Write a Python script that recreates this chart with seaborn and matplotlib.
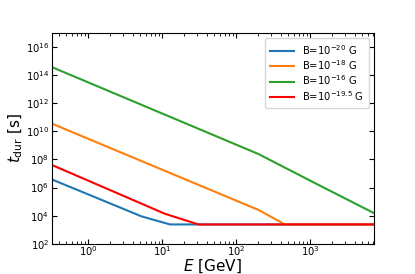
import matplotlib
matplotlib.use('Agg')
import matplotlib.pyplot as plt
import numpy as np
import pandas as pd
import seaborn as sns

# values (E in GeV, t_dur in s)
E_b20 = [0.323, 5.3, 12.8, 7200]
t_b20 = [3.8e6, 8.9e3, 2.4e3, 2.4e3]

E_b18 = [0.323, 200, 457, 7200]
t_b18 = [3.55e10, 2.6e4, 2.4e3, 2.4e3]

E_b16 = [0.323, 200, 1230, 7200]
t_b16 = [3.7e14, 2.45e8, 1.8e6, 1.6e4]

E_b195 = [0.323, 10.9, 31, 7200]
t_b195 = [4.07e7, 1.38e4, 2.4e3, 2.4e3]

labels = [r'B=$10^{-20}$ G', r'B=$10^{-18}$ G',
          r'B=$10^{-16}$ G', r'B=$10^{-19.5}$ G']
colors = ['C0', 'C1', 'C2', 'red']

series = [(E_b20, t_b20), (E_b18, t_b18), (E_b16, t_b16), (E_b195, t_b195)]

fig, ax = plt.subplots(figsize=(4.15, 2.74), dpi=100)

for (E, t), lab, c in zip(series, labels, colors):
    df = pd.DataFrame({'E': E, 't': t})
    sns.lineplot(data=df, x='E', y='t', color=c, label=lab, lw=1.5, ax=ax)

ax.set_xscale('log')
ax.set_yscale('log')
ax.set_xlim(0.323, 7200)
ax.set_ylim(1e2, 1e17)
ax.yaxis.set_major_locator(matplotlib.ticker.LogLocator(base=100))
ax.yaxis.set_minor_locator(matplotlib.ticker.NullLocator())

ax.tick_params(which='both', direction='in', top=True, right=True,
               labelsize=7.2)
ax.tick_params(axis='x', which='both', pad=0)
ax.tick_params(axis='y', which='both', pad=2)
ax.set_xlabel(r'$E$ [GeV]', fontsize=11)
ax.set_ylabel(r'$t_{\rm dur}$ [s]', fontsize=11)
ax.xaxis.set_label_coords(0.5, -0.065)
ax.yaxis.set_label_coords(-0.085, 0.5)
ax.legend(fontsize=7.2, loc='upper right', labelspacing=0.15,
          handlelength=2.4, borderpad=0.5)

fig.savefig('out.png', dpi=100)
